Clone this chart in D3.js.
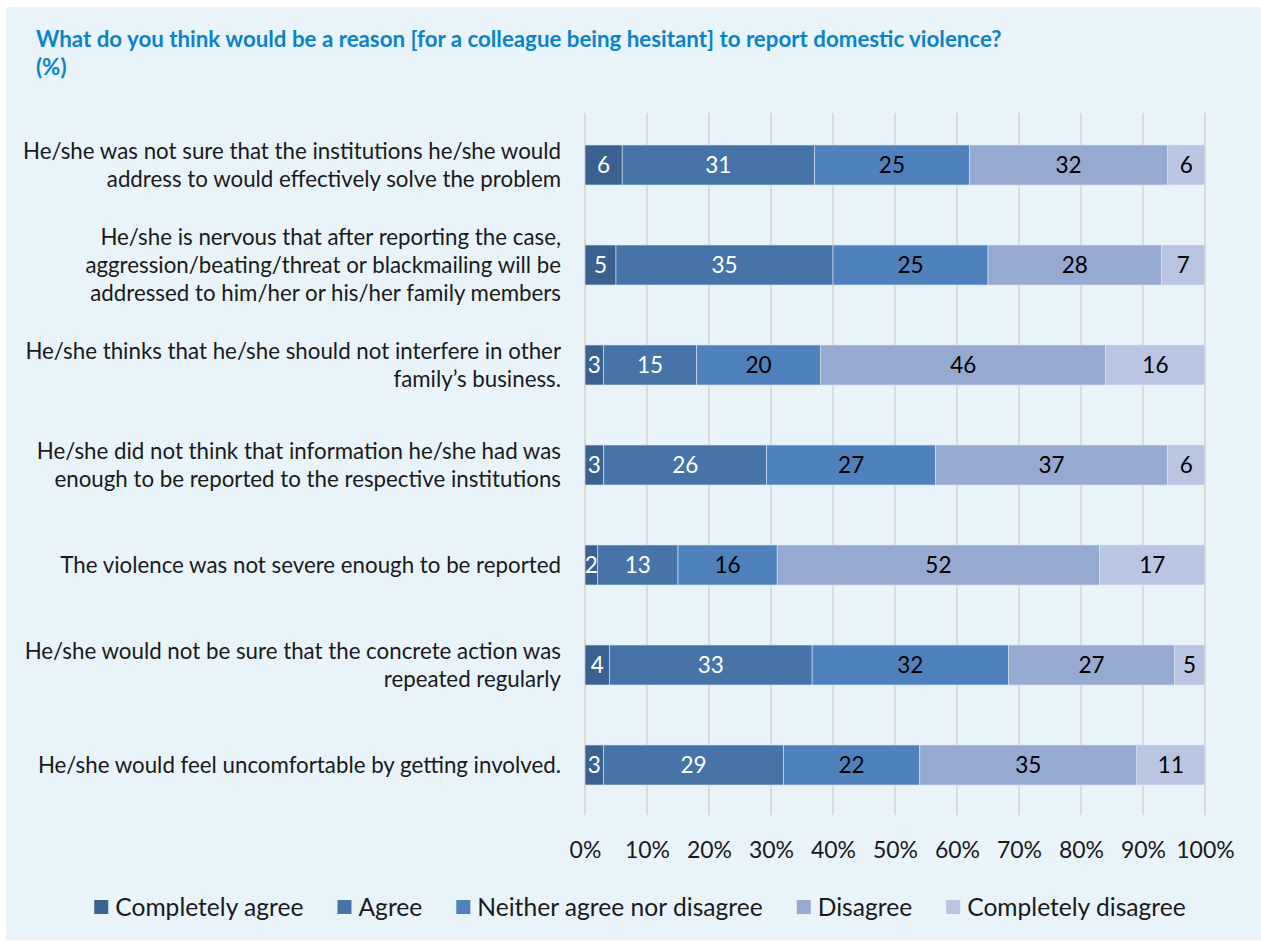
<!DOCTYPE html>
<html>
<head>
<meta charset="utf-8">
<script src="https://cdn.jsdelivr.net/npm/d3@7"></script>
<style>
  body { margin: 0; background: #ffffff; }
  svg text { font-family: Lato, "Open Sans", sans-serif; }
</style>
</head>
<body>
<svg></svg>
<script>
// chart data
var categories = [
  "He/she was not sure that the institutions he/she would|address to would effectively solve the problem",
  "He/she is nervous that after reporting the case,|aggression/beating/threat or blackmailing will be|addressed to him/her or his/her family members",
  "He/she thinks that he/she should not interfere in other|family\u2019s business.",
  "He/she did not think that information he/she had was|enough to be reported to the respective institutions",
  "The violence was not severe enough to be reported",
  "He/she would not be sure that the concrete action was|repeated regularly",
  "He/she would feel uncomfortable by getting involved."
];

var seriesNames = ["Completely agree", "Agree", "Neither agree nor disagree", "Disagree", "Completely disagree"];

var completelyAgree = [6, 5, 3, 3, 2, 4, 3];
var agree = [31, 35, 15, 26, 13, 33, 29];
var neither = [25, 25, 20, 27, 16, 32, 22];
var disagree = [32, 28, 46, 37, 52, 27, 35];
var completelyDisagree = [6, 7, 16, 6, 17, 5, 11];

var tickValues = [0, 0.1, 0.2, 0.3, 0.4, 0.5, 0.6, 0.7, 0.8, 0.9, 1];

var colors = ["#3b6191", "#4673a8", "#4f81bd", "#95a9d1", "#b9c6e1"];
var labelColors = ["#ffffff", "#ffffff", "#000000", "#000000", "#000000"];

var width = 1261;
var height = 941;

var svg = d3.select("svg")
        .attr("width", width)
        .attr("height", height);

// panel background
svg.append("rect")
   .attr("x", 6)
   .attr("y", 7)
   .attr("width", width - 6)
   .attr("height", height - 8)
   .attr("fill", "#e8f3fa");

svg.append("text")
   .attr("x", 36)
   .attr("y", 47)
   .attr("font-size", 22.3)
   .attr("font-weight", "bold")
   .attr("fill", "#0c83c7")
   .text("What do you think would be a reason [for a colleague being hesitant] to report domestic violence?");

svg.append("text")
   .attr("x", 36)
   .attr("y", 75)
   .attr("font-size", 22.3)
   .attr("font-weight", "bold")
   .attr("fill", "#0c83c7")
   .text("(%)");

var padding = { left: 585, right: 56, top: 115, bottom: 126 };

var rows = categories.map(function(c, i){
  var vals = [completelyAgree[i], agree[i], neither[i], disagree[i], completelyDisagree[i]];
  var total = d3.sum(vals);
  var row = { cat: c, total: total };
  seriesNames.forEach(function(s, j){ row[s] = vals[j] / total; row[s + "_raw"] = vals[j]; });
  return row;
});

var stack = d3.stack().keys(seriesNames);
var stacked = stack(rows);

var xScale = d3.scaleLinear()
               .domain([0, 1])
               .range([padding.left, width - padding.right]);

var yScale = d3.scaleBand()
               .domain(categories)
               .range([padding.top, height - padding.bottom])
               .paddingInner(0.6)
               .paddingOuter(0.3);

// gridlines
svg.append("g")
   .selectAll("line")
   .data(tickValues)
   .enter()
   .append("line")
   .attr("x1", function(d){ return xScale(d); })
   .attr("x2", function(d){ return xScale(d); })
   .attr("y1", padding.top - 2)
   .attr("y2", height - padding.bottom)
   .attr("stroke", "#d9d9d9")
   .attr("stroke-width", 2);

var groups = svg.selectAll("g.series")
   .data(stacked)
   .enter()
   .append("g")
   .attr("class", "series");

groups.selectAll("rect")
   .data(function(d){ return d; })
   .enter()
   .append("rect")
   .attr("x", function(d){ return xScale(d[0]); })
   .attr("y", function(d){ return yScale(d.data.cat); })
   .attr("width", function(d){ return xScale(d[1]) - xScale(d[0]); })
   .attr("height", yScale.bandwidth())
   .attr("fill", function(d, i, nodes){ return colors[d3.select(nodes[i].parentNode).datum().index]; })
   .attr("stroke", "#dce6f2")
   .attr("stroke-width", 0.6);

groups.selectAll("text")
   .data(function(d){ return d.map(function(p){ return { p: p, key: d.key, index: d.index }; }); })
   .enter()
   .append("text")
   .attr("x", function(d){ return (xScale(d.p[0]) + xScale(d.p[1])) / 2; })
   .attr("y", function(d){ return yScale(d.p.data.cat) + yScale.bandwidth() / 2; })
   .attr("dy", "0.36em")
   .attr("text-anchor", "middle")
   .attr("font-size", 22.5)
   .attr("fill", function(d){ return labelColors[d.index]; })
   .text(function(d){ return d.p.data[d.key + "_raw"]; });

// category labels
var catLabels = svg.append("g")
   .selectAll("text")
   .data(categories)
   .enter()
   .append("text")
   .attr("text-anchor", "end")
   .attr("font-size", 22.3)
   .attr("fill", "#1a1a1a")
   .attr("y", function(d){
     var n = d.split("|").length;
     return yScale(d) + yScale.bandwidth() / 2 - (n - 1) * 14;
   });

catLabels.selectAll("tspan")
   .data(function(d){ return d.split("|"); })
   .enter()
   .append("tspan")
   .attr("x", 561)
   .attr("dy", function(d, i){ return i === 0 ? "0.36em" : 28; })
   .text(function(d){ return d; });

// x axis
var xAxis = d3.axisBottom()
              .scale(xScale)
              .tickValues(tickValues)
              .tickFormat(d3.format(".0%"))
              .tickSize(0)
              .tickPadding(0);

var axisG = svg.append("g")
   .attr("transform", "translate(0," + (height - padding.bottom + 27) + ")")
   .call(xAxis);

axisG.select(".domain").remove();
axisG.selectAll("text")
   .attr("font-size", 23)
   .attr("font-family", "Lato, sans-serif")
   .attr("fill", "#1a1a1a");

// legend, laid out from measured text widths and centred
var legend = svg.append("g");
var items = legend.selectAll("g")
   .data(seriesNames)
   .enter()
   .append("g");

items.append("rect")
   .attr("y", -7)
   .attr("width", 14)
   .attr("height", 14)
   .attr("fill", function(d, i){ return colors[i]; });

items.append("text")
   .attr("x", 21)
   .attr("dy", "0.36em")
   .attr("font-size", 24.6)
   .attr("fill", "#1a1a1a")
   .text(function(d){ return d; });

var gap = 34;
var pos = 0;
var offsets = [];
items.each(function(d, i){
  offsets.push(pos);
  pos += 21 + d3.select(this).select("text").node().getComputedTextLength() + gap;
});
var totalW = pos - gap;
var startX = 640 - totalW / 2;
items.attr("transform", function(d, i){ return "translate(" + (startX + offsets[i]) + ",907)"; });
</script>
</body>
</html>
